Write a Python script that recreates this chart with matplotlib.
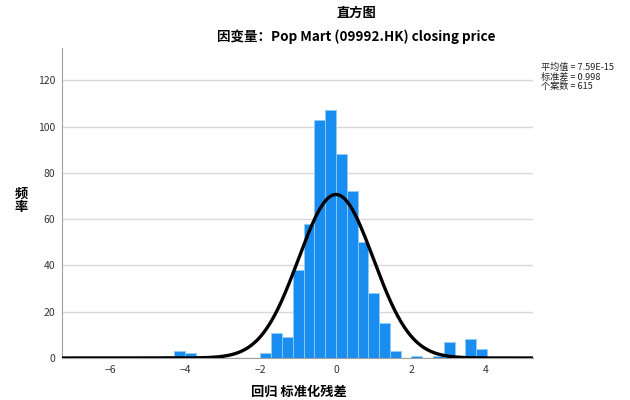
import numpy as np
import matplotlib
matplotlib.use('Agg')
import matplotlib.pyplot as plt

plt.rcParams['font.family'] = ['Noto Sans CJK SC', 'DejaVu Sans']

# histogram of standardized residuals (bin index k -> [k*w, (k+1)*w])
bin_width = 0.2875
bin_index = [-16, -15, -14, -13, -7, -6, -5, -4, -3, -2, -1, 0, 1, 2, 3, 4, 5, 7, 9, 10, 12, 13]
counts = [1, 3, 2, 1, 2, 11, 9, 38, 58, 103, 107, 88, 72, 50, 28, 15, 3, 1, 1, 7, 8, 4]

mean = 7.59e-15
std = 0.998
n = 615

title = '直方图'
subtitle = '因变量：Pop Mart (09992.HK) closing price'
xlabel = '回归 标准化残差'
ylabel = '频\n率'

fig = plt.figure(figsize=(6.3, 4.0), dpi=100)
ax = fig.add_axes([0.0984, 0.105, 0.7476, 0.775])

lefts = np.array(bin_index) * bin_width
ax.bar(lefts, counts, width=bin_width, align='edge', color='#1a8ef0',
       edgecolor='#8fcdf7', linewidth=0.6, zorder=2)

xs = np.linspace(-7.3, 5.25, 600)
ys = n * bin_width * np.exp(-0.5 * ((xs - mean) / std) ** 2) / (std * np.sqrt(2 * np.pi))
ax.plot(xs, ys, color='black', lw=2.4, zorder=3, solid_capstyle='butt')

ax.set_xlim(-7.3, 5.25)
ax.set_ylim(0, 134)
ax.set_xticks([-6, -4, -2, 0, 2, 4])
ax.set_yticks([0, 20, 40, 60, 80, 100, 120])
ax.yaxis.grid(True, color='#d9d9d9', lw=1.0, zorder=0)
ax.set_axisbelow(True)
ax.tick_params(length=0, labelsize=7.5, colors='#333333', pad=5)
for s in ['top', 'right']:
    ax.spines[s].set_visible(False)
ax.spines['left'].set_color('#a0a0a0')
ax.spines['bottom'].set_color('#a0a0a0')

fig.text(0.474, 0.0215, xlabel, ha='center', va='center', fontsize=9.5, fontweight='bold')
fig.text(0.034, 0.5, ylabel, ha='center', va='center', fontsize=9.5, fontweight='bold',
         linespacing=0.95)

fig.text(0.565, 0.968, title, ha='center', va='center', fontsize=9.5, fontweight='bold')
fig.text(0.565, 0.908, subtitle, ha='center', va='center', fontsize=9.7, fontweight='bold')

stats = '平均值 = 7.59E-15\n标准差 = 0.998\n个案数 = 615'
fig.text(0.859, 0.8075, stats, ha='left', va='center', fontsize=6.6, linespacing=1.05,
         color='#222222')

fig.savefig('out.png', dpi=100)
